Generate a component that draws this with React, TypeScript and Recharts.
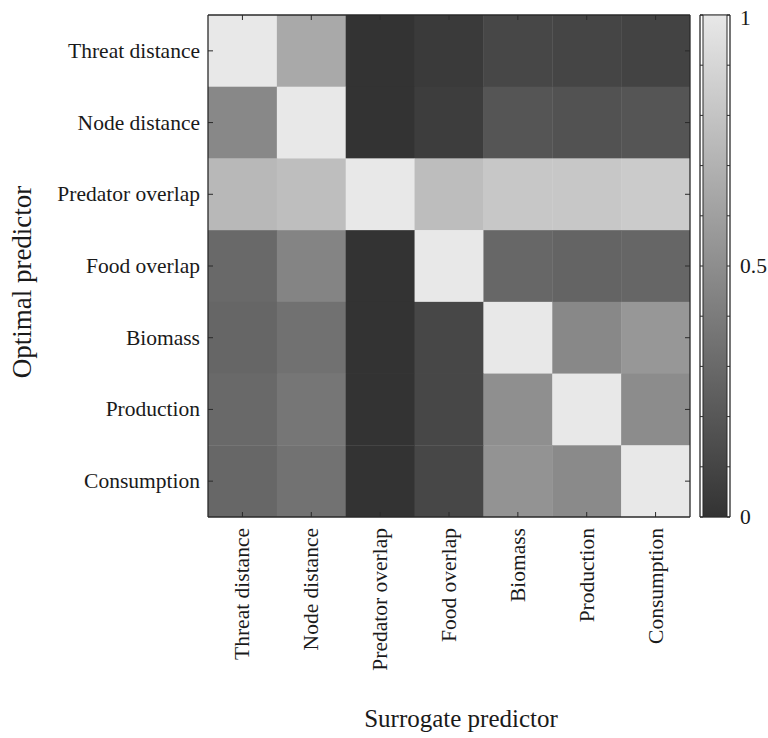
import { ScatterChart, Scatter, XAxis, YAxis } from "recharts"

const optimalPredictors = [
  "Threat distance",
  "Node distance",
  "Predator overlap",
  "Food overlap",
  "Biomass",
  "Production",
  "Consumption",
]
const surrogatePredictors = [...optimalPredictors]

// similarity of each optimal predictor (row) with each surrogate predictor (column)
const threatRow = [1.0, 0.65, 0.0, 0.04, 0.11, 0.1, 0.09]
const nodeRow = [0.47, 1.0, 0.0, 0.055, 0.19, 0.17, 0.19]
const predatorRow = [0.735, 0.77, 1.0, 0.76, 0.82, 0.82, 0.84]
const foodRow = [0.3, 0.45, 0.0, 1.0, 0.29, 0.27, 0.28]
const biomassRow = [0.28, 0.34, 0.0, 0.11, 1.0, 0.47, 0.55]
const productionRow = [0.3, 0.37, 0.0, 0.11, 0.51, 1.0, 0.49]
const consumptionRow = [0.29, 0.35, 0.0, 0.11, 0.53, 0.48, 1.0]
const matrix = [threatRow, nodeRow, predatorRow, foodRow, biomassRow, productionRow, consumptionRow]

const cellTicks = [0.5, 1.5, 2.5, 3.5, 4.5, 5.5, 6.5]
const colorbarTicks = [0, 0.1, 0.2, 0.3, 0.4, 0.5, 0.6, 0.7, 0.8, 0.9, 1]
const colorbarLabels = [0, 0.5, 1]

const FONT = '"Liberation Serif", "Times New Roman", serif'
const INK = "#1a1a1a"
const FRAME = "#2a2a2a"
const W = 768
const H = 738
const MARGIN = { top: 15, right: 78, bottom: 221, left: 208 }
const PLOT_W = W - MARGIN.left - MARGIN.right
const PLOT_H = H - MARGIN.top - MARGIN.bottom
const N = optimalPredictors.length
const CELL_W = PLOT_W / N
const CELL_H = PLOT_H / N
const BAR_W = 24

const shade = (v: number) => {
  const g = Math.round(51 + v * 181)
  return `rgb(${g},${g},${g})`
}

// one point per cell, centred in its column / row
const cells = matrix.flatMap((row, i) =>
  row.map((v, j) => ({ col: j + 0.5, row: i + 0.5, v }))
)
const colorbarPoint = [{ x: 0.5, y: 0.5 }]

function CellShape({ cx, cy, payload }: any) {
  return (
    <rect
      x={cx - CELL_W / 2}
      y={cy - CELL_H / 2}
      width={CELL_W + 0.4}
      height={CELL_H + 0.4}
      fill={shade(payload.v)}
    />
  )
}

function ColorbarShape({ cx, cy }: any) {
  return (
    <rect
      x={cx - BAR_W / 2}
      y={cy - PLOT_H / 2}
      width={BAR_W}
      height={PLOT_H}
      fill="url(#cbarGrad)"
      stroke={FRAME}
      strokeWidth={1}
    />
  )
}

const NoShape = () => <g />

function BottomTick({ x, y, payload }: any) {
  const label = surrogatePredictors[Math.floor(payload.value)]
  return (
    <g>
      <line x1={x} y1={y} x2={x} y2={y - 5} stroke={FRAME} />
      <text
        transform={`translate(${x},${y + 11}) rotate(-90)`}
        textAnchor="end"
        dominantBaseline="central"
        fontSize={21.5}
        fontFamily={FONT}
        fill={INK}
      >
        {label}
      </text>
    </g>
  )
}

function TopTick({ x, y }: any) {
  return <line x1={x} y1={y} x2={x} y2={y + 5} stroke={FRAME} />
}

function LeftTick({ x, y, payload }: any) {
  const label = optimalPredictors[Math.floor(payload.value)]
  return (
    <g>
      <line x1={x} y1={y} x2={x + 5} y2={y} stroke={FRAME} />
      <text
        x={x - 8}
        y={y}
        textAnchor="end"
        dominantBaseline="central"
        fontSize={21.5}
        fontFamily={FONT}
        fill={INK}
      >
        {label}
      </text>
    </g>
  )
}

function RightTick({ x, y }: any) {
  return <line x1={x} y1={y} x2={x - 5} y2={y} stroke={FRAME} />
}

function BarLeftTick({ x, y }: any) {
  return <line x1={x} y1={y} x2={x + 3} y2={y} stroke={FRAME} />
}

function BarRightTick({ x, y, payload }: any) {
  const show = colorbarLabels.includes(payload.value)
  return (
    <g>
      <line x1={x} y1={y} x2={x - 3} y2={y} stroke={FRAME} />
      {show && (
        <text
          x={x + 10}
          y={payload.value === 1 ? y + 3 : y}
          dominantBaseline="central"
          fontSize={21.5}
          fontFamily={FONT}
          fill={INK}
        >
          {payload.value}
        </text>
      )}
    </g>
  )
}

const frameLine = { stroke: FRAME, strokeWidth: 1.3 }

export default function App() {
  return (
    <div style={{ position: "absolute", left: 0, top: 0, width: W, height: H, background: "#fff" }}>
      {/* heatmap cells */}
      <div style={{ position: "absolute", left: 0, top: 0 }}>
        <ScatterChart width={W} height={H} margin={MARGIN}>
          <XAxis type="number" dataKey="col" domain={[0, N]} allowDataOverflow hide />
          <YAxis type="number" dataKey="row" domain={[0, N]} allowDataOverflow reversed hide />
          <Scatter data={cells} shape={<CellShape />} isAnimationActive={false} />
        </ScatterChart>
      </div>

      {/* frame, inward ticks and labels drawn over the cells */}
      <div style={{ position: "absolute", left: 0, top: 0, pointerEvents: "none" }}>
        <ScatterChart width={W} height={H} margin={{ top: 14, right: 77, bottom: 0, left: 8 }}>
          <XAxis
            type="number"
            dataKey="col"
            domain={[0, N]}
            allowDataOverflow
            ticks={cellTicks}
            interval={0}
            height={221}
            tickSize={0}
            tickMargin={0}
            tick={<BottomTick />}
            axisLine={frameLine}
            label={{
              content: ({ viewBox }: any) => (
                <text
                  x={viewBox.x + viewBox.width / 2 + 12}
                  y={viewBox.y + 210}
                  textAnchor="middle"
                  fontSize={25}
                  fontFamily={FONT}
                  fill={INK}
                >
                  Surrogate predictor
                </text>
              ),
            }}
          />
          <XAxis
            xAxisId="top"
            orientation="top"
            type="number"
            dataKey="col"
            domain={[0, N]}
            allowDataOverflow
            ticks={cellTicks}
            interval={0}
            height={1}
            tickSize={0}
            tickMargin={0}
            tick={<TopTick />}
            axisLine={frameLine}
          />
          <YAxis
            type="number"
            dataKey="row"
            domain={[0, N]}
            allowDataOverflow
            reversed
            ticks={cellTicks}
            interval={0}
            width={200}
            tickSize={0}
            tickMargin={0}
            tick={<LeftTick />}
            axisLine={frameLine}
            label={{
              content: ({ viewBox }: any) => (
                <text
                  transform={`translate(${viewBox.x + 14},${viewBox.y + viewBox.height / 2 + 16}) rotate(-90)`}
                  textAnchor="middle"
                  dominantBaseline="central"
                  fontSize={27}
                  fontFamily={FONT}
                  fill={INK}
                >
                  Optimal predictor
                </text>
              ),
            }}
          />
          <YAxis
            yAxisId="right"
            orientation="right"
            type="number"
            dataKey="row"
            domain={[0, N]}
            allowDataOverflow
            reversed
            ticks={cellTicks}
            interval={0}
            width={1}
            tickSize={0}
            tickMargin={0}
            tick={<RightTick />}
            axisLine={frameLine}
          />
          <Scatter data={cells} shape={<NoShape />} isAnimationActive={false} />
          <Scatter data={cells} xAxisId="top" yAxisId="right" shape={<NoShape />} isAnimationActive={false} />
        </ScatterChart>
      </div>

      {/* colour bar */}
      <div style={{ position: "absolute", left: 690, top: 0 }}>
        <ScatterChart width={78} height={H} margin={{ top: 14, right: 37, bottom: 220, left: 9 }}>
          <defs>
            <linearGradient id="cbarGrad" x1="0" y1="1" x2="0" y2="0">
              <stop offset="0%" stopColor={shade(0)} />
              <stop offset="100%" stopColor={shade(1)} />
            </linearGradient>
          </defs>
          <XAxis type="number" dataKey="x" domain={[0, 1]} allowDataOverflow height={1} tick={false} tickLine={false} axisLine={frameLine} />
          <XAxis xAxisId="top" orientation="top" type="number" dataKey="x" domain={[0, 1]} allowDataOverflow height={1} tick={false} tickLine={false} axisLine={frameLine} />
          <YAxis
            type="number"
            dataKey="y"
            domain={[0, 1]}
            allowDataOverflow
            ticks={colorbarTicks}
            interval={0}
            width={1}
            tickSize={0}
            tickMargin={0}
            tick={<BarLeftTick />}
            axisLine={frameLine}
          />
          <YAxis
            yAxisId="right"
            orientation="right"
            type="number"
            dataKey="y"
            domain={[0, 1]}
            allowDataOverflow
            ticks={colorbarTicks}
            interval={0}
            width={1}
            tickSize={0}
            tickMargin={0}
            tick={<BarRightTick />}
            axisLine={frameLine}
          />
          <Scatter data={colorbarPoint} shape={<ColorbarShape />} isAnimationActive={false} />
          <Scatter data={colorbarPoint} xAxisId="top" yAxisId="right" shape={<NoShape />} isAnimationActive={false} />
        </ScatterChart>
      </div>
    </div>
  )
}
